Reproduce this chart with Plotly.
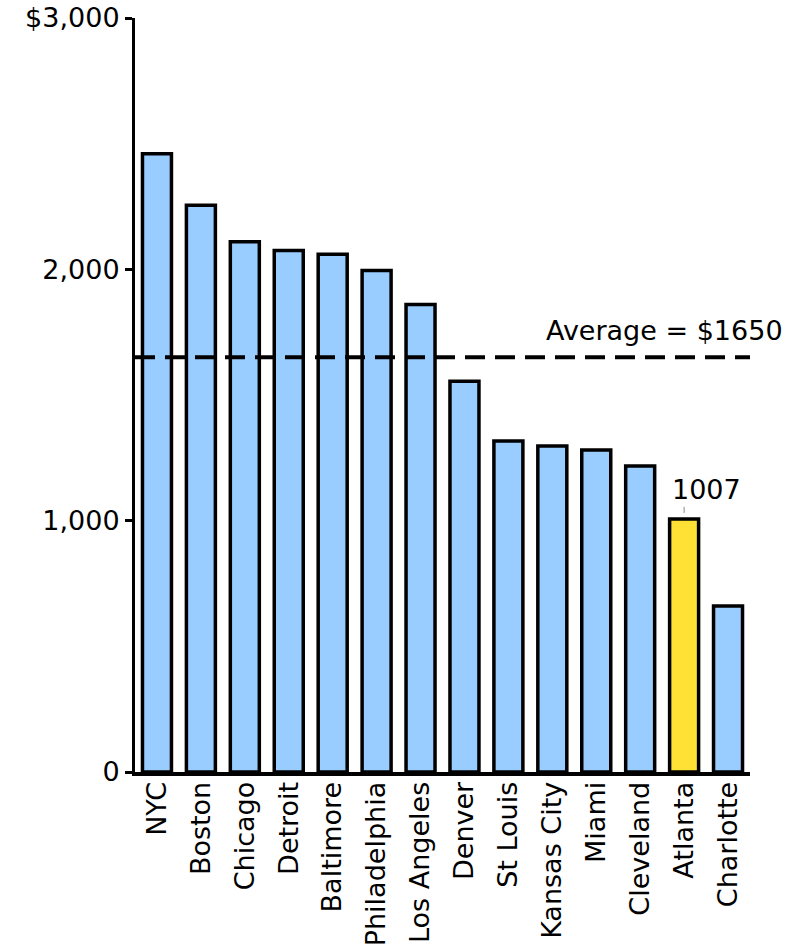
import plotly.graph_objects as go

# Monthly rent by city
cities = ["NYC", "Boston", "Chicago", "Detroit", "Baltimore", "Philadelphia",
          "Los Angeles", "Denver", "St Louis", "Kansas City", "Miami",
          "Cleveland", "Atlanta", "Charlotte"]
rents = [2460, 2255, 2110, 2075, 2060, 1995, 1860, 1555, 1317, 1297, 1281,
         1218, 1007, 660]
highlight_city = "Atlanta"
average_rent = 1650

y_tickvals = [0, 1000, 2000, 3000]
y_ticktext = ["0", "1,000", "2,000", "$3,000"]

BLUE = "#99CCFF"
YELLOW = "#FFE135"
FONT = "DejaVu Sans"
FS = 27

colors = [YELLOW if c == highlight_city else BLUE for c in cities]

fig = go.Figure()
fig.add_trace(go.Bar(
    x=cities, y=rents,
    marker=dict(color=colors, line=dict(color="black", width=3.5)),
    hoverinfo="x+y",
))

# dashed average line across the plot
fig.add_shape(
    type="line", xref="paper", yref="y",
    x0=0, x1=1, y0=average_rent, y1=average_rent,
    line=dict(color="black", width=4, dash="20px,10px"),
    layer="above",
)
fig.add_annotation(
    xref="paper", yref="y", x=1.057, y=average_rent,
    text=f"Average = ${average_rent}", showarrow=False,
    xanchor="right", yanchor="bottom", yshift=9,
    font=dict(family=FONT, size=FS, color="black"),
)

# value label above the highlighted bar, with a small leader tick
hi = cities.index(highlight_city)
fig.add_annotation(
    x=cities[hi], y=rents[hi], text=str(rents[hi]),
    showarrow=False, xanchor="left", yanchor="bottom",
    xshift=-14, yshift=12,
    font=dict(family=FONT, size=FS, color="black"),
)
fig.add_shape(
    type="line", xref="x", yref="y", ysizemode="pixel", yanchor=rents[hi],
    x0=cities[hi], x1=cities[hi], y0=6, y1=12,
    line=dict(color="#888888", width=1),
)

fig.update_layout(
    width=809, height=951,
    margin=dict(l=135, r=59, t=18, b=179),
    paper_bgcolor="white", plot_bgcolor="white",
    showlegend=False,
    bargap=0.34,
    font=dict(family=FONT, size=FS, color="black"),
)
fig.update_xaxes(
    range=[-0.5, len(cities) - 0.5],
    showline=True, linecolor="black", linewidth=4,
    showgrid=False, ticks="", tickangle=-90,
    ticklabelstandoff=-5,
    tickfont=dict(family=FONT, size=FS, color="black"),
    automargin=False, fixedrange=True,
)
fig.update_yaxes(
    range=[0, 3000],
    tickvals=y_tickvals, ticktext=y_ticktext,
    showline=True, linecolor="black", linewidth=3,
    ticks="outside", ticklen=7, tickwidth=3, tickcolor="black",
    showgrid=False, zeroline=False,
    tickfont=dict(family=FONT, size=FS, color="black"),
    automargin=False, fixedrange=True,
)

fig.write_html("out.html")
